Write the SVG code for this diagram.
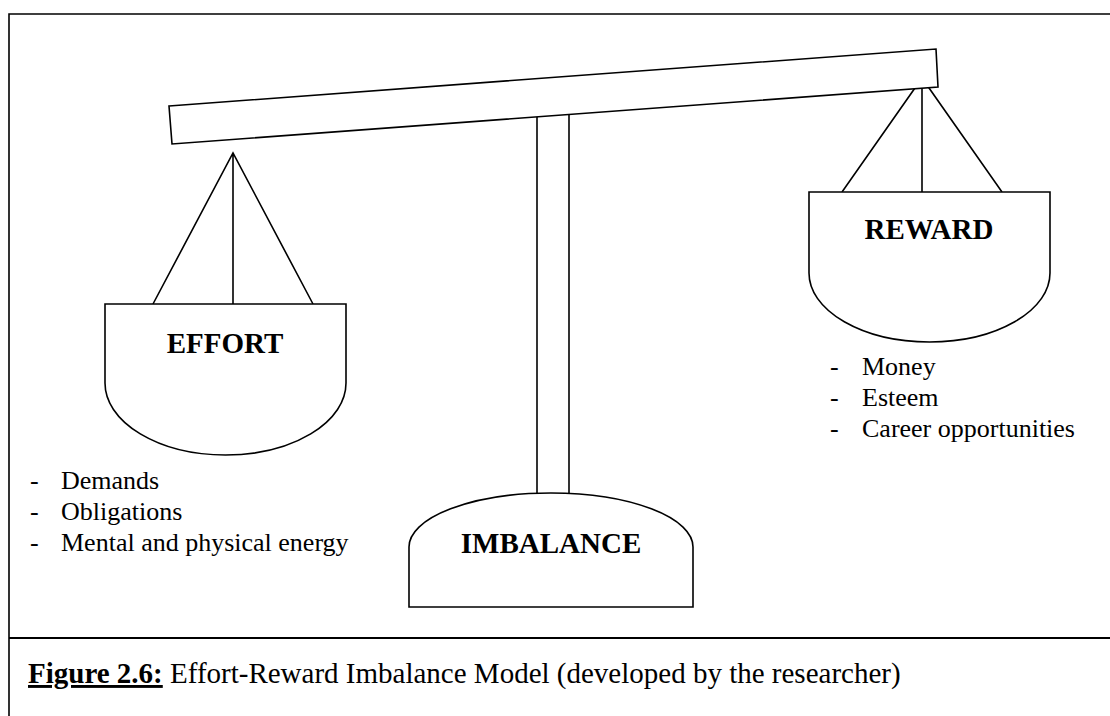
<svg xmlns="http://www.w3.org/2000/svg" width="1110" height="716" viewBox="0 0 1110 716">
  <style>
    .ln { fill: none; stroke: #000; stroke-width: 1.6; stroke-linejoin: miter; }
    .sh { fill: #fff; stroke: #000; stroke-width: 1.6; }
    .lbl { font-family: "Liberation Serif", "Times New Roman", serif; font-weight: bold; font-size: 29px; fill: #000; text-anchor: middle; }
    .item { font-family: "Liberation Serif", "Times New Roman", serif; font-size: 26px; fill: #000; }
    .cap { font-family: "Liberation Serif", "Times New Roman", serif; font-size: 29px; fill: #000; }
  </style>
  <rect x="0" y="0" width="1110" height="716" fill="#fff"/>

  <!-- frame -->
  <g id="frame">
    <path class="ln" d="M1110,14 H9 V716" stroke-width="2"/>
    <line x1="9" y1="638" x2="1110" y2="638" stroke="#000" stroke-width="2.2"/>
  </g>

  <!-- connectors: pillar and hanging strings -->
  <g id="connectors">
    <line class="ln" x1="537" y1="117" x2="537" y2="494"/>
    <line class="ln" x1="569" y1="114" x2="569" y2="494"/>
    <path class="ln" d="M153,304 L233,153 L313,304 M233,153 V304"/>
    <path class="ln" d="M842,192 L922,78 L1002,192 M922,78 V192"/>
  </g>

  <!-- tilted beam -->
  <g id="beam">
    <polygon class="sh" points="169,106 936,49 938,87 172,144"/>
  </g>

  <!-- effort pan -->
  <g id="effort">
    <path class="sh" d="M105,304 H346 V383 A120.5,72 0 0 1 105,383 Z"/>
    <text class="lbl" x="225" y="353">EFFORT</text>
    <text class="item" x="30" y="489">-</text>
    <text class="item" x="61" y="489">Demands</text>
    <text class="item" x="30" y="520">-</text>
    <text class="item" x="61" y="520">Obligations</text>
    <text class="item" x="30" y="551">-</text>
    <text class="item" x="61" y="551">Mental and physical energy</text>
  </g>

  <!-- reward pan -->
  <g id="reward">
    <path class="sh" d="M809,192 H1050 V273 A120.5,69 0 0 1 809,273 Z"/>
    <text class="lbl" x="929" y="239">REWARD</text>
    <text class="item" x="830" y="375">-</text>
    <text class="item" x="862" y="375">Money</text>
    <text class="item" x="830" y="406">-</text>
    <text class="item" x="862" y="406">Esteem</text>
    <text class="item" x="830" y="437">-</text>
    <text class="item" x="862" y="437">Career opportunities</text>
  </g>

  <!-- imbalance base -->
  <g id="imbalance">
    <path class="sh" d="M409,607 V547 A142,54 0 0 1 693,547 V607 Z"/>
    <text class="lbl" x="551" y="553">IMBALANCE</text>
  </g>

  <!-- caption -->
  <g id="caption">
    <text class="cap" x="28" y="683"><tspan font-weight="bold" text-decoration="underline">Figure 2.6:</tspan> Effort-Reward Imbalance Model (developed by the researcher)</text>
  </g>
</svg>
